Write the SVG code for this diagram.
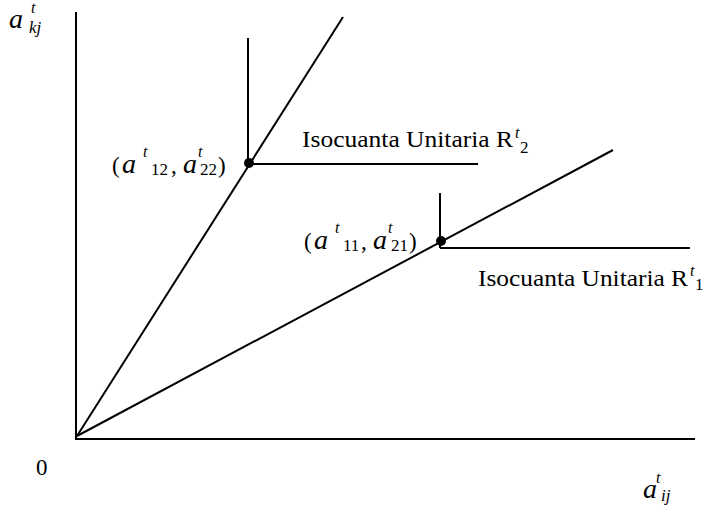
<svg xmlns="http://www.w3.org/2000/svg" width="709" height="505" viewBox="0 0 709 505">
<style>
.ln{stroke:#000;stroke-width:2;fill:none}
.dot{fill:#000}
</style>
<rect width="709" height="505" fill="#fff"/>
<g id="connectors">
<line class="ln" x1="76" y1="12" x2="76" y2="440"/>
<line class="ln" x1="75" y1="439" x2="695" y2="439"/>
<line class="ln" x1="77" y1="436" x2="343" y2="17"/>
<line class="ln" x1="77" y1="436" x2="613" y2="150"/>
<line class="ln" x1="248" y1="38" x2="248" y2="164"/>
<line class="ln" x1="248" y1="164" x2="478" y2="164"/>
<line class="ln" x1="440" y1="193" x2="440" y2="248"/>
<line class="ln" x1="440" y1="248" x2="690" y2="248"/>
</g>
<g id="point1">
<circle class="dot" cx="249" cy="163" r="5"/>
<text font-family="Liberation Serif" font-size="23" x="112" y="173">(</text>
<text font-family="Liberation Serif" font-size="28" font-style="italic" x="122" y="173">a</text>
<text font-family="Liberation Serif" font-size="16" font-style="italic" x="143" y="157">t</text>
<text font-family="Liberation Serif" font-size="17" x="151" y="175">12</text>
<text font-family="Liberation Serif" font-size="23" x="171" y="173">,</text>
<text font-family="Liberation Serif" font-size="28" font-style="italic" x="183" y="173">a</text>
<text font-family="Liberation Serif" font-size="16" font-style="italic" x="198" y="157">t</text>
<text font-family="Liberation Serif" font-size="17" x="200" y="175">22</text>
<text font-family="Liberation Serif" font-size="23" x="218" y="173">)</text>
</g>
<g id="point2">
<circle class="dot" cx="441" cy="241" r="5"/>
<text font-family="Liberation Serif" font-size="23" x="304" y="249">(</text>
<text font-family="Liberation Serif" font-size="28" font-style="italic" x="314" y="249">a</text>
<text font-family="Liberation Serif" font-size="16" font-style="italic" x="335" y="233">t</text>
<text font-family="Liberation Serif" font-size="17" x="343" y="251">11</text>
<text font-family="Liberation Serif" font-size="23" x="361" y="249">,</text>
<text font-family="Liberation Serif" font-size="28" font-style="italic" x="373" y="249">a</text>
<text font-family="Liberation Serif" font-size="16" font-style="italic" x="388" y="233">t</text>
<text font-family="Liberation Serif" font-size="17" x="391" y="251">21</text>
<text font-family="Liberation Serif" font-size="23" x="409" y="249">)</text>
</g>
<g id="isoquant2">
<text font-family="Liberation Serif" font-size="23" x="302" y="147" textLength="211" lengthAdjust="spacingAndGlyphs">Isocuanta Unitaria R</text>
<text font-family="Liberation Serif" font-size="16" font-style="italic" x="515" y="138">t</text>
<text font-family="Liberation Serif" font-size="17" x="520" y="153">2</text>
</g>
<g id="isoquant1">
<text font-family="Liberation Serif" font-size="23" x="478" y="286" textLength="210" lengthAdjust="spacingAndGlyphs">Isocuanta Unitaria R</text>
<text font-family="Liberation Serif" font-size="16" font-style="italic" x="690" y="276">t</text>
<text font-family="Liberation Serif" font-size="17" x="695" y="290">1</text>
</g>
<g id="axis-y-label">
<text font-family="Liberation Serif" font-size="28" font-style="italic" x="9" y="28">a</text>
<text font-family="Liberation Serif" font-size="16" font-style="italic" x="31" y="13">t</text>
<text font-family="Liberation Serif" font-size="17" font-style="italic" x="29" y="33">kj</text>
</g>
<g id="axis-x-label">
<text font-family="Liberation Serif" font-size="28" font-style="italic" x="643" y="498">a</text>
<text font-family="Liberation Serif" font-size="16" font-style="italic" x="656" y="483">t</text>
<text font-family="Liberation Serif" font-size="17" font-style="italic" x="661" y="501">ij</text>
</g>
<g id="origin">
<text font-family="Liberation Serif" font-size="23" x="36" y="475">0</text>
</g>
</svg>
